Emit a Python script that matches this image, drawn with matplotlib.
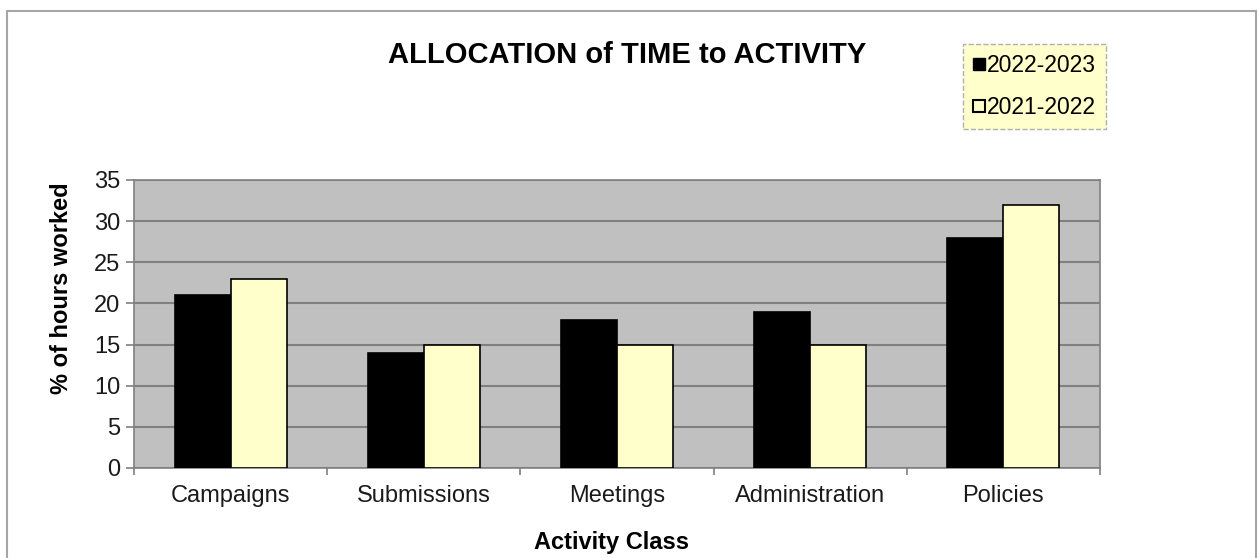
import numpy as np
import matplotlib
matplotlib.use('Agg')
import matplotlib.pyplot as plt
from matplotlib.patches import Rectangle

plt.rcParams['font.family'] = ['Liberation Sans', 'DejaVu Sans']

categories = ['Campaigns', 'Submissions', 'Meetings', 'Administration', 'Policies']
series_2022_2023 = [21, 14, 18, 19, 28]
series_2021_2022 = [23, 15, 15, 15, 32]
y_ticks = [0, 5, 10, 15, 20, 25, 30, 35]

fig = plt.figure(figsize=(12.58, 5.58), dpi=100)
# outer chart frame
fig.patches.append(Rectangle((7 / 1258, -0.1), (1256 - 7) / 1258, (558 - 11) / 558 + 0.1,
                             transform=fig.transFigure, fill=False,
                             edgecolor='#a6a6a6', linewidth=1.5))

ax = fig.add_axes([134 / 1258, 90 / 558, (1100 - 134) / 1258, (468 - 180) / 558])
ax.set_facecolor('#c0c0c0')

x = np.arange(len(categories))
w = 0.29
ax.bar(x - w / 2, series_2022_2023, w, color='black', edgecolor='black', linewidth=1.2,
       label='2022-2023', zorder=3)
ax.bar(x + w / 2, series_2021_2022, w, color='#ffffcc', edgecolor='black', linewidth=1.2,
       label='2021-2022', zorder=3)

ax.set_xlim(-0.5, len(categories) - 0.5)
ax.set_ylim(0, 35)
ax.set_yticks(y_ticks)
ax.yaxis.grid(True, color='#808080', linewidth=1.5, zorder=0)
ax.set_axisbelow(True)

ax.set_xticks(x)
ax.set_xticklabels(categories, fontsize=17, color='#1a1a1a')
ax.tick_params(axis='x', length=0, pad=12)
ax.set_xticks(np.arange(-0.5, len(categories)), minor=True)
ax.tick_params(axis='x', which='minor', length=5, color='#808080', width=1.2)
ax.tick_params(axis='y', labelsize=17, labelcolor='#1a1a1a', length=6, color='#808080',
               width=1.2, pad=4)

for s in ax.spines.values():
    s.set_color('#808080')
    s.set_linewidth(1.2)

fig.text(62 / 1258, 1 - 288 / 558, '% of hours worked', rotation=90, ha='center', va='center',
         fontsize=17, fontweight='bold')
fig.text(612 / 1258, 1 - 543 / 558, 'Activity Class', ha='center', va='center',
         fontsize=17, fontweight='bold')
fig.text(627 / 1258, 1 - 55 / 558, 'ALLOCATION of TIME to ACTIVITY', ha='center', va='center',
         fontsize=21, fontweight='bold')

h1 = plt.Line2D([], [], marker='s', linestyle='none', markerfacecolor='black',
                markeredgecolor='black', markersize=8)
h2 = plt.Line2D([], [], marker='s', linestyle='none', markerfacecolor='#ffffcc',
                markeredgecolor='black', markersize=8, markeredgewidth=1.5)
leg = fig.legend([h1, h2], ['2022-2023', '2021-2022'], loc='upper left',
                 bbox_to_anchor=(963 / 1258, 1 - 44 / 558), fontsize=16.5,
                 frameon=True, fancybox=False, handlelength=0.5, handletextpad=0.1,
                 labelspacing=0.8, borderpad=0.45, borderaxespad=0)
frame = leg.get_frame()
frame.set_facecolor('#ffffcc')
frame.set_edgecolor('#b0b0b0')
frame.set_linestyle('--')
frame.set_alpha(1)

fig.savefig('out.png', dpi=100)
